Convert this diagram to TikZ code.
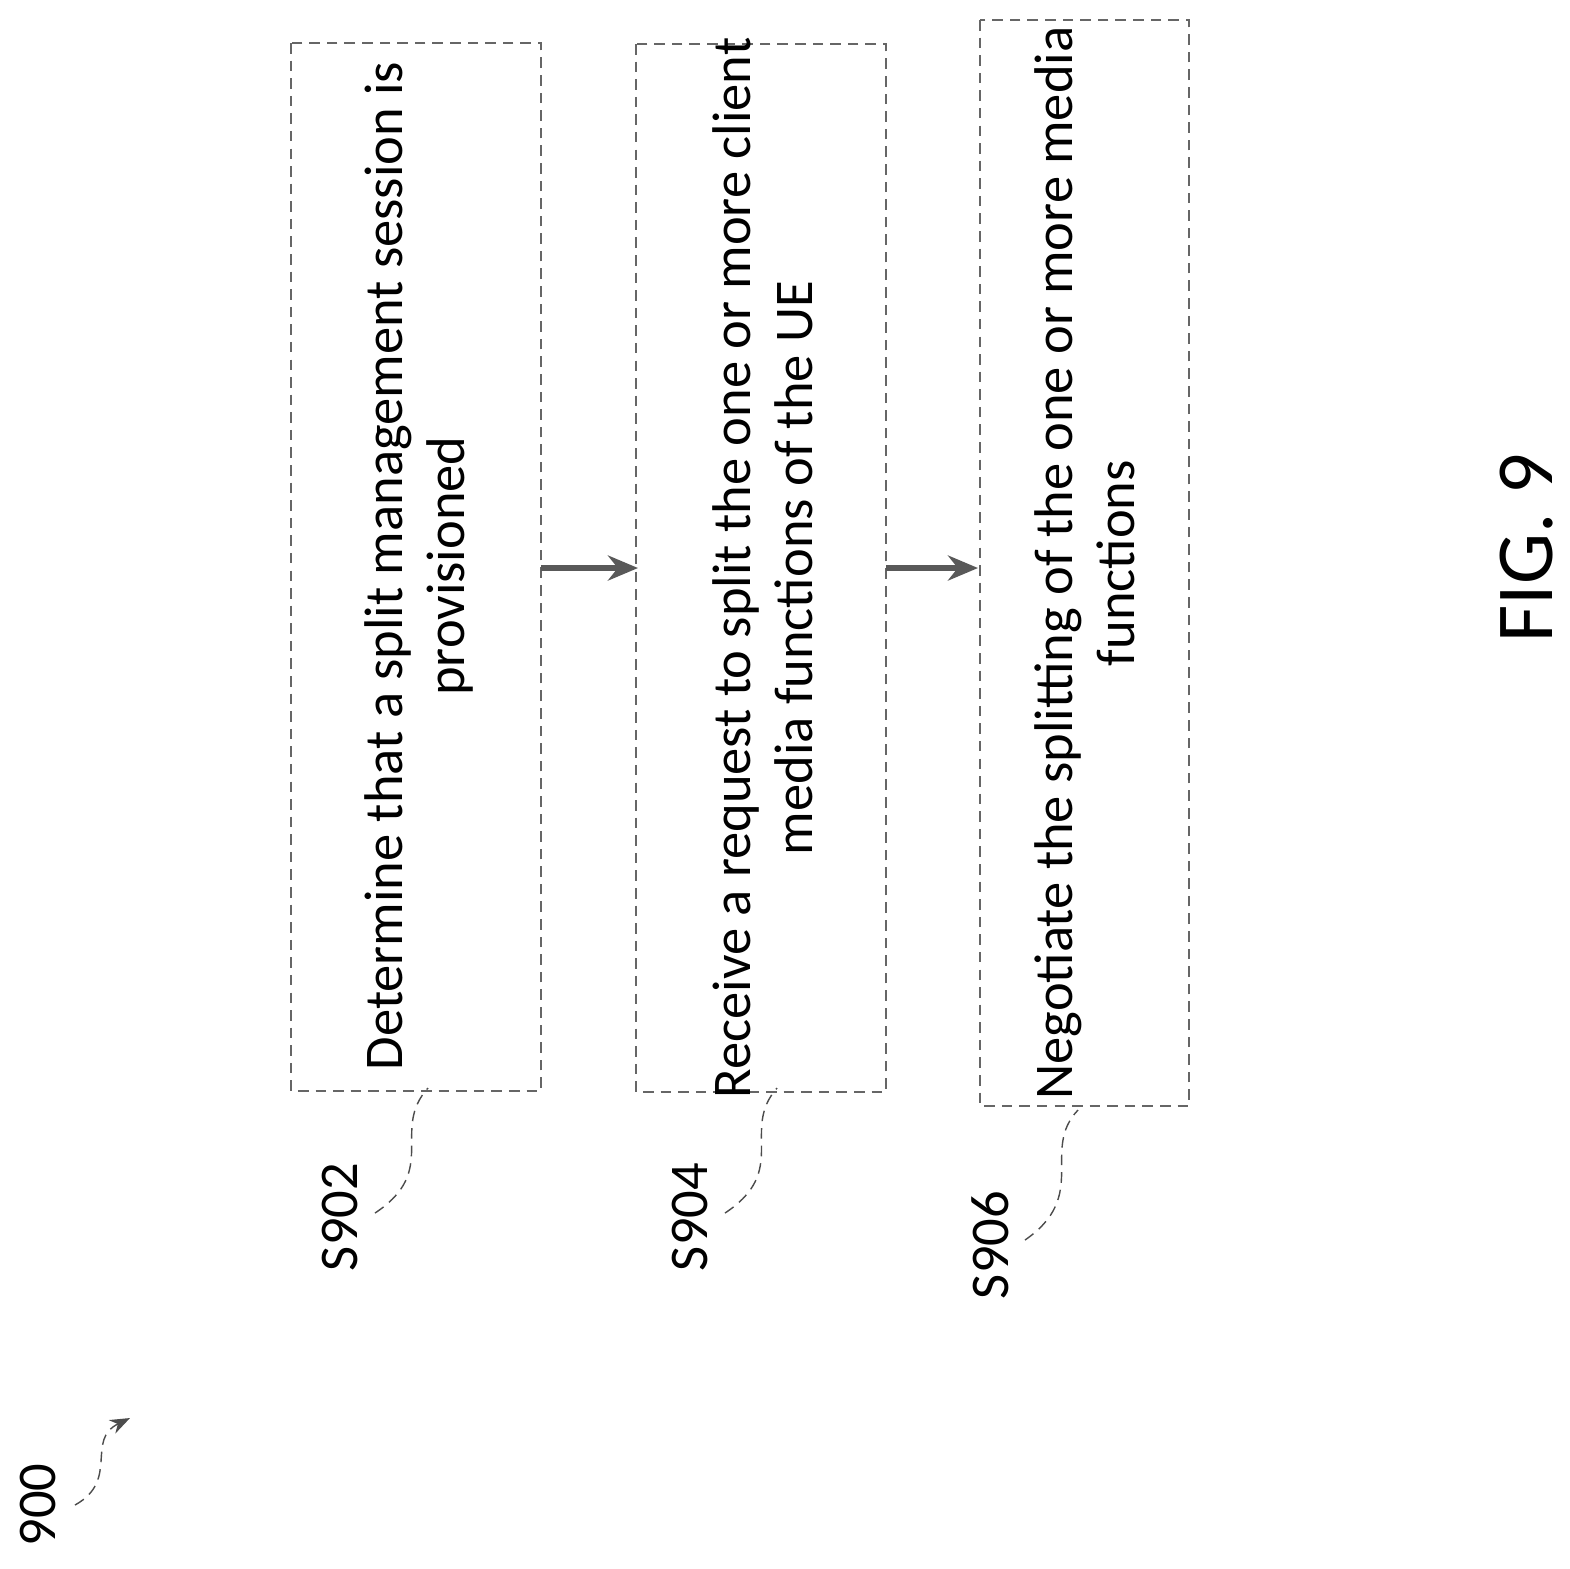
\documentclass[tikz,border=0pt]{standalone}
\usepackage{fontspec}
\setmainfont{Carlito}
\usetikzlibrary{positioning,arrows.meta}

\begin{document}
\begin{tikzpicture}[x=0.01cm,y=-0.01cm,
    stepBox/.style={draw=black!60,densely dashed,thin,inner sep=0pt},
    stepText/.style={rotate=90,align=center,font=\fontsize{15.5}{17.5}\selectfont},
    flowArrow/.style={-{Stealth[length=0.3cm,width=0.25cm]},line width=1.5pt,draw=black!65},
    refLine/.style={draw=black!70,densely dashed,thin},
    refText/.style={rotate=90,font=\fontsize{15.5}{17.5}\selectfont}
  ]
    \useasboundingbox (0,0) rectangle (1570,1568);

    % step boxes
    \draw[stepBox] (291,43) rectangle (541,1091);
    \draw[stepBox] (636,44) rectangle (886,1092);
    \draw[stepBox] (980,20) rectangle (1189,1106);
    \coordinate (box1 east) at (541,568);
    \coordinate (box2 west) at (638,568);
    \coordinate (box2 east) at (886,568);
    \coordinate (box3 west) at (978,568);

    \node[stepText] (determine) at (419,566) {Determine that a split management session is\\provisioned};
    \node[stepText] (receive) at (763,568) {Receive a request to split the one or more client\\media functions of the UE};
    \node[stepText] (negotiate) at (1085,563) {Negotiate the splitting of the one or more media\\functions};

    % flow
    \draw[flowArrow] (box1 east) -- (box2 west);
    \draw[flowArrow] (box2 east) -- (box3 west);

    % reference labels
    \node[refText] (s902) at (340,1217) {S902};
    \node[refText] (s904) at (690,1217) {S904};
    \node[refText] (s906) at (990,1245) {S906};
    \node[refText] (fig900) at (38,1505) {900};
    \node[rotate=90,font=\fontsize{23}{26}\selectfont] (figure) at (1527,548) {FIG. 9};

    \draw[refLine] (375,1213) .. controls (440,1170) and (390,1130) .. (428,1088);
    \draw[refLine] (725,1213) .. controls (790,1170) and (740,1130) .. (777,1088);
    \draw[refLine] (1025,1240) .. controls (1090,1195) and (1040,1150) .. (1078,1110);
    \draw[refLine,-{Stealth[length=0.2cm]}] (75,1505) .. controls (120,1480) and (85,1440) .. (130,1418);
\end{tikzpicture}
\end{document}
